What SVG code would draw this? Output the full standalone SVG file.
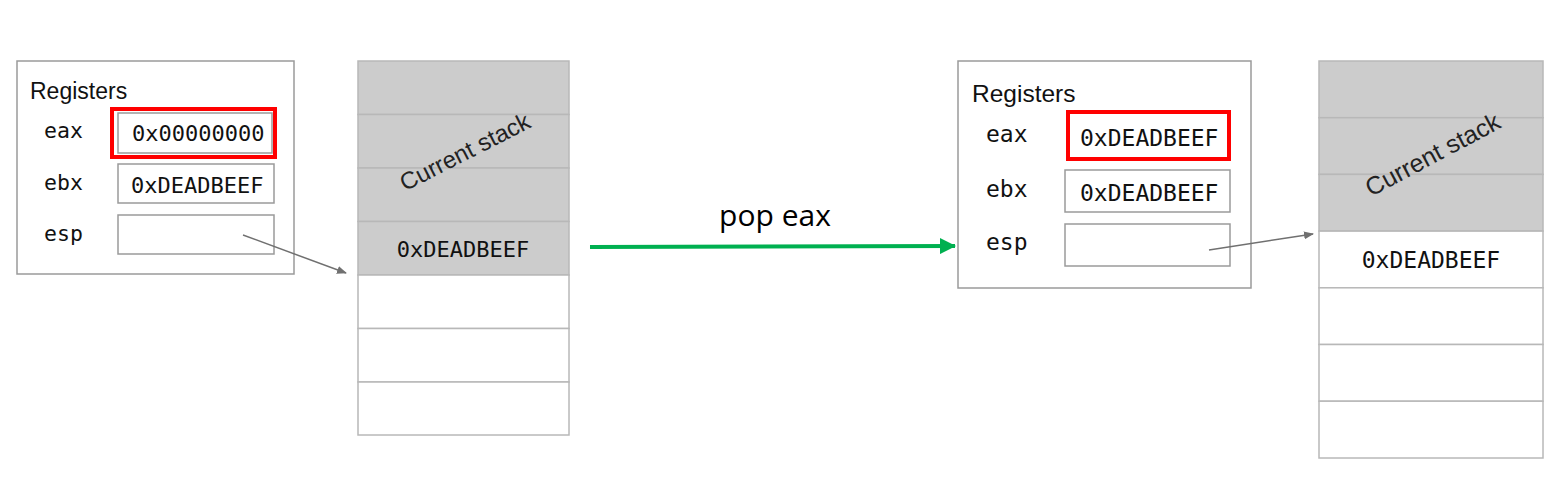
<svg xmlns="http://www.w3.org/2000/svg" width="1549" height="484" viewBox="0 0 1549 484">
<style>
.box{fill:#fff;stroke:#9a9a9a;stroke-width:1.5}
.reg{fill:#fff;stroke:#9a9a9a;stroke-width:1.5}
.hi{fill:none;stroke:#ff0000;stroke-width:4}
.cell{stroke:#b8b8b8;stroke-width:1.5}
.g{fill:#cccccc}
.w{fill:#ffffff}
.title{font-family:"Liberation Sans",Arial,sans-serif;font-size:23px;fill:#111}
.mono{font-family:"DejaVu Sans Mono",monospace;font-size:21.5px;fill:#111}
.val{font-family:"DejaVu Sans Mono",monospace;font-size:22px;fill:#111}
.rot{font-family:"Liberation Sans",Arial,sans-serif;font-size:24px;fill:#222}
.lbl{font-family:"Open Sans",sans-serif;font-size:30px;fill:#000}
.ptr{stroke:#707070;stroke-width:1.5;fill:none}
</style>
<defs>
<marker id="ga" markerWidth="10" markerHeight="8" refX="9" refY="4" orient="auto" markerUnits="userSpaceOnUse">
<path d="M0,0 L10,4 L0,8 Z" fill="#707070"/>
</marker>
<marker id="gr" markerWidth="16" markerHeight="16" refX="15" refY="8" orient="auto" markerUnits="userSpaceOnUse">
<path d="M0,0 L16,8 L0,16 Z" fill="#00b050"/>
</marker>
</defs>

<g id="registers-before">
<rect class="box" x="17" y="61" width="277" height="213"/>
<text class="title" x="30" y="99">Registers</text>
<text class="mono" x="44" y="138">eax</text>
<rect class="reg" x="118" y="113" width="154" height="40"/>
<text class="val" x="132" y="141">0x00000000</text>
<rect class="hi" x="112" y="109" width="163" height="48"/>
<text class="mono" x="44" y="190">ebx</text>
<rect class="reg" x="118" y="164" width="156" height="39"/>
<text class="val" x="131" y="193">0xDEADBEEF</text>
<text class="mono" x="44" y="241">esp</text>
<rect class="reg" x="118" y="215" width="156" height="39"/>
</g>

<g id="stack-before">
<rect class="cell g" x="358" y="61" width="211" height="53.5"/>
<rect class="cell g" x="358" y="114.5" width="211" height="53.5"/>
<rect class="cell g" x="358" y="168" width="211" height="53.5"/>
<rect class="cell g" x="358" y="221.5" width="211" height="53.5"/>
<rect class="cell w" x="358" y="275" width="211" height="53.5"/>
<rect class="cell w" x="358" y="328.5" width="211" height="53.5"/>
<rect class="cell w" x="358" y="382" width="211" height="53"/>
<text class="rot" x="465" y="160" text-anchor="middle" transform="rotate(-27 465 152)">Current stack</text>
<text class="val" x="463" y="257" text-anchor="middle">0xDEADBEEF</text>
</g>

<g id="registers-after">
<rect class="box" x="958" y="61" width="293" height="227"/>
<text class="title" x="972" y="102" style="font-size:24.5px">Registers</text>
<text class="mono" x="986" y="142" style="font-size:23px">eax</text>
<rect class="reg" x="1068" y="113" width="161" height="45"/>
<text class="val" x="1080" y="146" style="font-size:23px">0xDEADBEEF</text>
<rect class="hi" x="1068" y="112" width="161" height="47"/>
<text class="mono" x="986" y="197" style="font-size:23px">ebx</text>
<rect class="reg" x="1065" y="170" width="165" height="42"/>
<text class="val" x="1080" y="201" style="font-size:23px">0xDEADBEEF</text>
<text class="mono" x="986" y="250" style="font-size:23px">esp</text>
<rect class="reg" x="1065" y="224" width="165" height="42"/>
</g>

<g id="stack-after">
<rect class="cell g" x="1319" y="61" width="224" height="56.7"/>
<rect class="cell g" x="1319" y="117.7" width="224" height="56.7"/>
<rect class="cell g" x="1319" y="174.4" width="224" height="56.7"/>
<rect class="cell w" x="1319" y="231.1" width="224" height="56.7"/>
<rect class="cell w" x="1319" y="287.8" width="224" height="56.7"/>
<rect class="cell w" x="1319" y="344.5" width="224" height="56.7"/>
<rect class="cell w" x="1319" y="401.2" width="224" height="56.8"/>
<text class="rot" x="1433" y="163" text-anchor="middle" style="font-size:25px" transform="rotate(-28 1433 155)">Current stack</text>
<text class="val" x="1431" y="268" text-anchor="middle" style="font-size:23px">0xDEADBEEF</text>
</g>

<g id="connectors">
<line class="ptr" x1="243" y1="235" x2="346" y2="273" marker-end="url(#ga)"/>
<line class="ptr" x1="1209" y1="250" x2="1313" y2="234" marker-end="url(#ga)"/>
<line x1="590" y1="247" x2="955" y2="246" stroke="#00b050" stroke-width="4" marker-end="url(#gr)"/>
<text class="lbl" x="775" y="226" text-anchor="middle">pop eax</text>
</g>
</svg>
